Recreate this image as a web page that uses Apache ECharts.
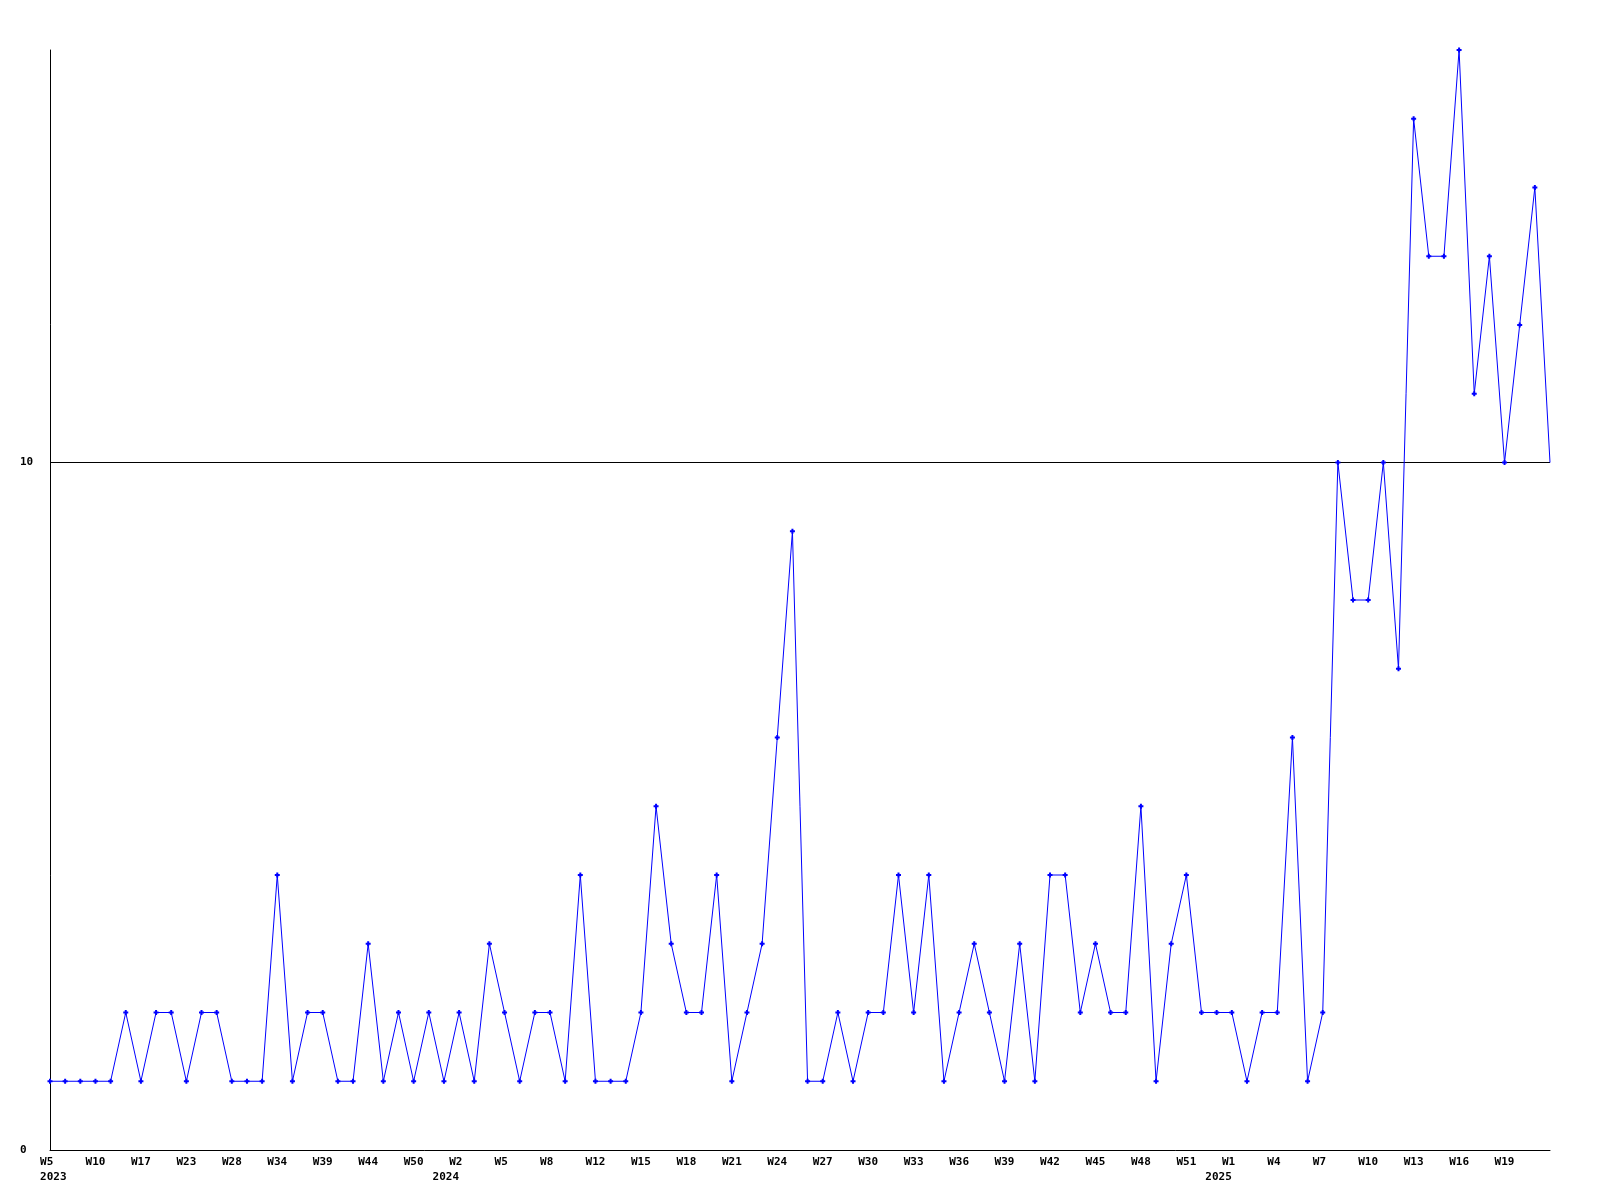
<!DOCTYPE html>
<html>
<head>
<meta charset="utf-8">
<script src="https://cdn.jsdelivr.net/npm/echarts@6/dist/echarts.min.js"></script>
<style>
html,body{margin:0;padding:0;background:#fff;}
#chart{width:1600px;height:1200px;}
</style>
</head>
<body>
<div id="chart"></div>
<script>
// Week categories (year, week) — every third one is labelled in the reference
const years = [
  2023,2023,2023,2023,2023,2023,2023,2023,2023,2023,
  2023,2023,2023,2023,2023,2023,2023,2023,2023,2023,
  2023,2023,2023,2023,2023,2023,2023,2024,2024,2024,
  2024,2024,2024,2024,2024,2024,2024,2024,2024,2024,
  2024,2024,2024,2024,2024,2024,2024,2024,2024,2024,
  2024,2024,2024,2024,2024,2024,2024,2024,2024,2024,
  2024,2024,2024,2024,2024,2024,2024,2024,2024,2024,
  2024,2024,2024,2024,2024,2024,2024,2024,2025,2025,
  2025,2025,2025,2025,2025,2025,2025,2025,2025,2025,
  2025,2025,2025,2025,2025,2025,2025,2025,2025,2025
];
const weeks = [
  'W5','W6','W8','W10','W12','W15','W17','W19','W21','W23',
  'W25','W26','W28','W30','W32','W34','W36','W37','W39','W41',
  'W42','W44','W46','W48','W50','W51','W52','W2','W3','W4',
  'W5','W6','W7','W8','W10','W11','W12','W13','W14','W15',
  'W16','W17','W18','W19','W20','W21','W22','W23','W24','W25',
  'W26','W27','W28','W29','W30','W31','W32','W33','W34','W35',
  'W36','W37','W38','W39','W40','W41','W42','W43','W44','W45',
  'W46','W47','W48','W49','W50','W51','W52','W53','W1','W2',
  'W3','W4','W5','W6','W7','W8','W9','W10','W11','W12',
  'W13','W14','W15','W16','W17','W18','W19','W20','W21','W22'
];
const values = [
  1,1,1,1,1,2,1,2,2,1,
  2,2,1,1,1,4,1,2,2,1,
  1,3,1,2,1,2,1,2,1,3,
  2,1,2,2,1,4,1,1,1,2,
  5,3,2,2,4,1,2,3,6,9,
  1,1,2,1,2,2,4,2,4,1,
  2,3,2,1,3,1,4,4,2,3,
  2,2,5,1,3,4,2,2,2,1,
  2,2,6,1,2,10,8,8,10,7,
  15,13,13,16,11,13,10,12,14,10
];
const yTicks = [0, 10];

const categories = weeks.map((w, i) => years[i] + ' ' + w);
const plus = 'path://M1.5,0H3.5V1.5H5V3.5H3.5V5H1.5V3.5H0V1.5H1.5Z';
const FONT = '"DejaVu Sans Mono", "Liberation Mono", monospace';

const chart = echarts.init(document.getElementById('chart'), null, {renderer: 'canvas'});
chart.setOption({
  animation: false,
  backgroundColor: '#ffffff',
  grid: {left: 50, right: 50, top: 50, bottom: 50, containLabel: false},
  xAxis: {
    type: 'category',
    data: categories,
    boundaryGap: false,
    axisLine: {show: true, lineStyle: {color: '#000', width: 1}},
    axisTick: {show: false},
    splitLine: {show: false},
    axisLabel: {
      interval: function (i) { return i % 3 === 0 && i < categories.length - 1; },
      margin: 5,
      color: '#000',
      fontFamily: FONT,
      fontWeight: 'bold',
      fontSize: 11,
      lineHeight: 15,
      align: 'center',
      hideOverlap: false,
      formatter: function (v, i) {
        const parts = v.split(' ');
        let w = parts[1];
        while (w.length < 3) w += ' ';
        if (i === 0) return w + '\n ' + parts[0];
        if (i >= 3 && years[i] !== years[i - 3]) return w + '\n' + parts[0] + '    ';
        return w;
      }
    }
  },
  yAxis: {
    type: 'value',
    min: 0,
    max: 16,
    interval: 10,
    axisLine: {show: true, lineStyle: {color: '#000', width: 1}},
    axisTick: {show: false},
    splitLine: {show: true, showMinLine: false, showMaxLine: false, lineStyle: {color: '#000', width: 1}},
    axisLabel: {
      margin: 30,
      align: 'left',
      color: '#000',
      fontFamily: FONT,
      fontWeight: 'bold',
      fontSize: 11,
      showMaxLabel: false,
      formatter: function (v) { return yTicks.indexOf(v) >= 0 ? String(v) : ''; }
    }
  },
  series: [{
    type: 'line',
    data: values,
    symbol: function (v, p) { return p.dataIndex === values.length - 1 ? 'none' : plus; },
    symbolSize: 5,
    showAllSymbol: true,
    lineStyle: {color: '#0000ff', width: 1},
    itemStyle: {color: '#0000ff'},
    emphasis: {disabled: true},
    silent: true
  }]
});
</script>
</body>
</html>
